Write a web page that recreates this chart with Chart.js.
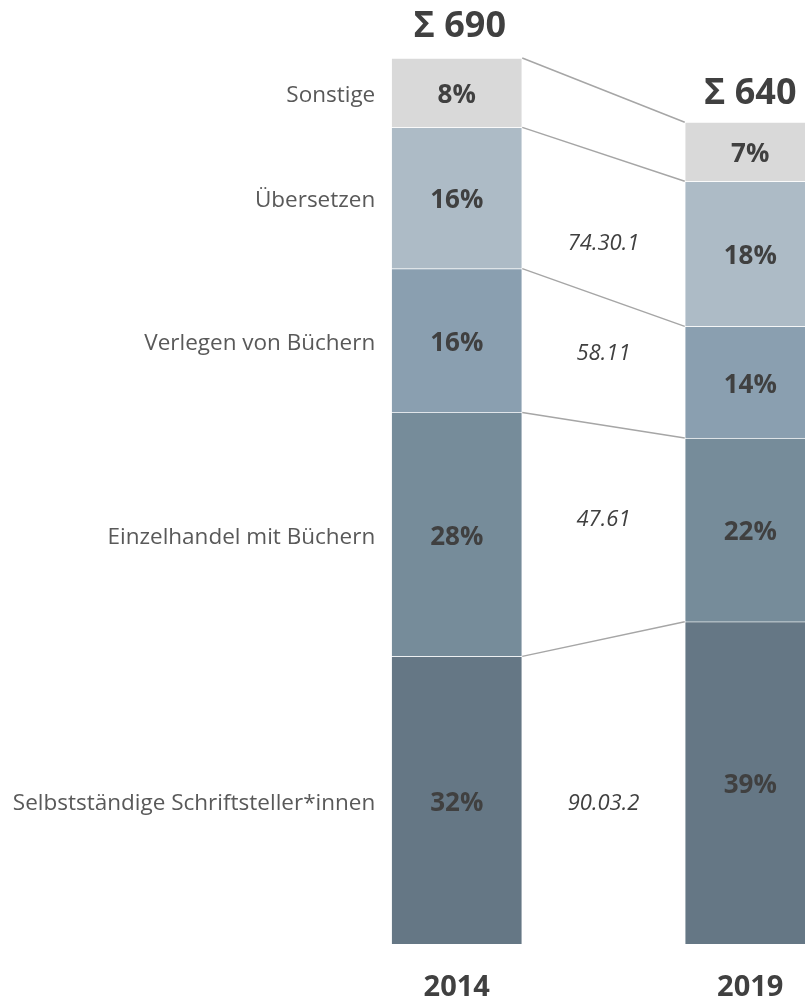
<!DOCTYPE html>
<html lang="de">

<head>
    <meta charset="UTF-8">
    <title>Buchbranche 2014 / 2019</title>
    <script src="https://cdn.jsdelivr.net/npm/chart.js"></script>
    <style>
        html, body { margin: 0; padding: 0; background: #fff; overflow: hidden; }
        .box { position: relative; width: 1000px; height: 998px; }
    </style>
</head>

<body>
    <div class="box">
        <canvas id="myChart"></canvas>
    </div>
</body>

<script>
    // Daten
    var jahre = ['2014', '2019'];
    var kategorien = ['Selbstständige Schriftsteller*innen', 'Einzelhandel mit Büchern', 'Verlegen von Büchern', 'Übersetzen', 'Sonstige'];
    var selbststaendige = [224, 251];
    var einzelhandel = [190, 143];
    var verlegen = [112, 87];
    var uebersetzen = [110, 113];
    var sonstige = [54, 46];
    var anteile2014 = ['32%', '28%', '16%', '16%', '8%'];
    var anteile2019 = ['39%', '22%', '14%', '18%', '7%'];
    var veraenderung = ['90.03.2', '47.61', '58.11', '74.30.1', ''];

    var farben = ['#657785', '#768c9a', '#8a9fb0', '#adbbc6', '#d9d9d9'];
    var werte = [selbststaendige, einzelhandel, verlegen, uebersetzen, sonstige];

    var summe2014 = werte.reduce((s, w) => s + w[0], 0);
    var summe2019 = werte.reduce((s, w) => s + w[1], 0);

    // kleine Verschiebung der kursiven Texte (px), von unten nach oben
    var versatz = [9, -15, -11, 15, 0];

    const beschriftung = {
        id: 'beschriftung',
        afterDatasetsDraw(chart) {
            const ctx = chart.ctx;
            ctx.save();
            let oben = [];
            for (let i = 0; i < werte.length; i++) {
                const meta = chart.getDatasetMeta(i);
                const a = meta.data[0];
                const b = meta.data[1];
                const aRechts = a.x + a.width / 2;
                const bLinks = b.x - b.width / 2;

                // Verbindungslinie
                ctx.strokeStyle = '#a6a6a6';
                ctx.lineWidth = 1.5;
                ctx.beginPath();
                ctx.moveTo(aRechts, a.y);
                ctx.lineTo(bLinks, b.y);
                ctx.stroke();

                const mitteA = (a.y + a.base) / 2 + 3;
                const mitteB = (b.y + b.base) / 2 + 3;

                // Prozente
                ctx.fillStyle = '#404040';
                ctx.font = 'bold 26px "Open Sans"';
                ctx.textAlign = 'center';
                ctx.textBaseline = 'middle';
                ctx.fillText(anteile2014[i], a.x, mitteA);
                ctx.fillText(anteile2019[i], b.x, mitteB);

                // Kategorie links
                ctx.fillStyle = '#595959';
                ctx.font = '22.5px "Open Sans"';
                ctx.textAlign = 'right';
                ctx.fillText(kategorien[i], a.x - a.width / 2 - 16, mitteA);

                // Veraenderung in der Mitte
                if (veraenderung[i]) {
                    ctx.fillStyle = '#404040';
                    ctx.font = 'italic 22px "Open Sans"';
                    ctx.textAlign = 'center';
                    ctx.fillText(veraenderung[i], (aRechts + bLinks) / 2, (mitteA + mitteB) / 2 + versatz[i]);
                }
                oben = [a, b];
            }

            // Summen
            ctx.fillStyle = '#404040';
            ctx.font = 'bold 36px "Open Sans"';
            ctx.textAlign = 'center';
            ctx.textBaseline = 'middle';
            ctx.fillText('Σ ' + summe2014, oben[0].x + 3, oben[0].y - 31);
            ctx.fillText('Σ ' + summe2019, oben[1].x, oben[1].y - 28);

            // Jahre
            ctx.font = 'bold 29px "Open Sans"';
            const xs = chart.scales.x;
            jahre.forEach((j, k) => {
                ctx.fillText(j, xs.getPixelForValue(k), chart.chartArea.bottom + 44);
            });
            ctx.restore();
        }
    };

    new Chart(document.getElementById('myChart'), {
        type: 'bar',
        data: {
            labels: jahre,
            datasets: werte.map((w, i) => ({
                label: kategorien[i],
                data: w,
                backgroundColor: farben[i],
                borderColor: 'rgba(255,255,255,0.3)',
                borderWidth: 1,
                barThickness: 131
            }))
        },
        options: {
            responsive: true,
            maintainAspectRatio: false,
            animation: false,
            layout: { padding: { left: 310, right: 103, top: 58, bottom: 54 } },
            plugins: { legend: { display: false }, tooltip: { enabled: false } },
            scales: {
                x: { stacked: true, display: false },
                y: { stacked: true, display: false, min: 0, max: summe2014 }
            }
        },
        plugins: [beschriftung]
    });
</script>

</html>
